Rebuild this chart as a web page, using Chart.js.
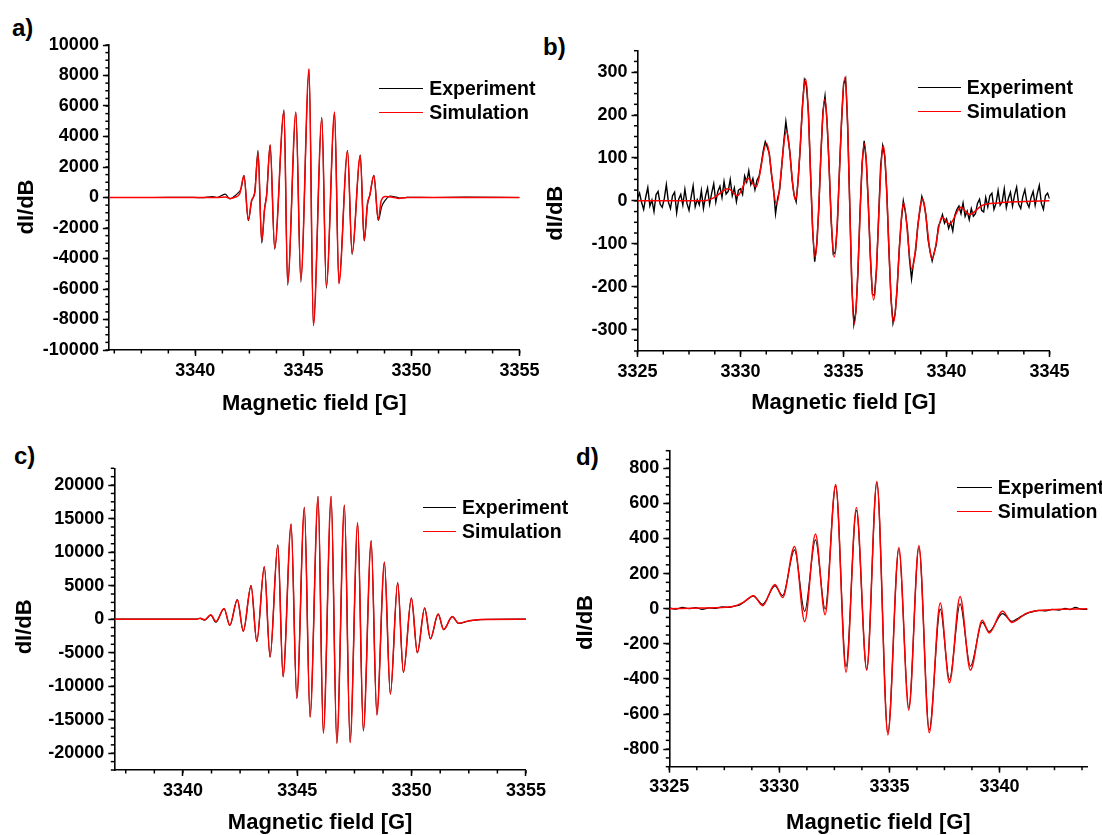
<!DOCTYPE html>
<html>
<head>
<meta charset="utf-8">
<script src="https://cdn.jsdelivr.net/npm/chart.js@4.4.1/dist/chart.umd.min.js"></script>
<style>
  html, body { margin: 0; padding: 0; background: #fff; overflow: hidden; }
  body { width: 1102px; height: 835px; position: relative; font-family: "Liberation Sans", Arial, sans-serif; color: #000; }
  canvas { position: absolute; }
  .tag { position: absolute; font-weight: bold; font-size: 24px; line-height: 24px; }
  .legend { position: absolute; font-weight: bold; font-size: 19.5px; }
  .legend div { display: flex; align-items: center; height: 24px; white-space: nowrap; }
  .legend .swatch { display: inline-block; height: 0; margin-right: 6px; }
</style>
</head>
<body>
<div class="tag" style="left:12px;top:16px">a)</div>
<div class="tag" style="left:543px;top:35px">b)</div>
<div class="tag" style="left:14px;top:444px">c)</div>
<div class="tag" style="left:576px;top:445px">d)</div>
<script>
// ---- panel a ----
const aExpField = [3336.0, 3338.0, 3339.5, 3340.3, 3340.8, 3341.0, 3341.38, 3341.6, 3341.8, 3341.98, 3342.12,
  3342.25, 3342.45, 3342.6, 3342.75, 3342.90, 3343.07, 3343.2, 3343.3, 3343.46, 3343.67, 3344.10, 3344.27,
  3344.65, 3344.88, 3345.26, 3345.46, 3345.85, 3346.06, 3346.44, 3346.64, 3347.04, 3347.25, 3347.63, 3347.81,
  3347.96, 3348.07, 3348.26, 3348.46, 3348.62, 3348.8, 3349.02, 3349.3, 3349.5, 3349.8, 3351.0, 3352.5, 3355.0];
const aExp = [0, 0, 15, -10, 60, 0, 220, -90, 80, 300, 600,
  1450, -1520, -250, 400, 3100, -3000, -750, 250, 3450, -3400, 5750, -5750,
  5550, -5550, 8400, -8400, 5250, -5950, 5550, -5600, 3100, -3750, 2800, -2850,
  -500, 150, 1450, -1500, -600, -150, 100, 20, -40, 10, 0, 20, 0];
const aSimField = [3336.0, 3341.0, 3341.4, 3341.62, 3341.85, 3342.05, 3342.25, 3342.45, 3342.6, 3342.75, 3342.90,
  3343.07, 3343.2, 3343.3, 3343.46, 3343.67, 3344.10, 3344.27, 3344.65, 3344.88, 3345.26, 3345.46, 3345.85,
  3346.06, 3346.44, 3346.64, 3347.04, 3347.25, 3347.63, 3347.81, 3347.96, 3348.07, 3348.26, 3348.46, 3348.6,
  3348.8, 3349.05, 3349.4, 3349.8, 3355.0];
const aSim = [0, 0, 30, -60, 30, 250, 1430, -1480, -200, 300, 2900,
  -2850, -800, 150, 3450, -3300, 5650, -5600, 5600, -5400, 8450, -8400, 5200,
  -5800, 5600, -5650, 3050, -3600, 2750, -2800, -400, 150, 1450, -1450, -200,
  60, 40, -60, 0, 0];
const aXTicks = [3340, 3345, 3350, 3355];
const aYTicks = [-10000, -8000, -6000, -4000, -2000, 0, 2000, 4000, 6000, 8000, 10000];

// ---- panel b ----
// experiment: one reading every 0.1 G from 3325 G
const bExpStart = 3325, bExpStep = 0.1;
const bExp = [
  6, 18, -4, -20, 9, 31, -12, 2, -25, 14,
  22, -8, -15, 5, 38, -3, -18, 12, 20, -28,
  4, 15, -10, 27, -6, -22, 8, 35, -14, 3,
  -9, 24, -18, 11, 30, -8, 18, 40, -3, 22,
  34, 8, 45, 16, 22, 50, 12, 30, -2, 25,
  28, 15, 58, 44, 70, 38, 52, 26, 48, 57,
  84, 116, 138, 125, 110, 62, 28, -30, 6, 26,
  80, 138, 185, 148, 112, 50, 14, -2, 52, 125,
  218, 282, 268, 204, 60, -70, -142, -100, -18, 110,
  208, 244, 184, 80, -48, -124, -120, -55, 70, 182,
  272, 285, 176, -8, -196, -287, -258, -165, -25, 88,
  140, 95, -4, -130, -218, -220, -160, -40, 82, 128,
  104, 20, -112, -225, -285, -264, -206, -114, -48, 0,
  -26, -66, -136, -182, -142, -116, -58, -24, 10, -6,
  -34, -90, -118, -140, -120, -102, -60, -48, -32, -52,
  -42, -64, -50, -70, -34, -20, -12, -30, -5, -36,
  -24, -44, -18, -36, -30, -6, 4, -22, -26, 8,
  -14, 12, 18, -20, -6, 24, -10, -2, 28, -16,
  6, 20, -12, 14, 32, -8, -18, 10, 26, -4,
  -15, 8, 22, -10, 16, 36, -6, -20, 12, 18,
  5];
const bSimField = [3325.0, 3328.2, 3328.7, 3329.40, 3329.85, 3330.37, 3330.76, 3331.26, 3331.75, 3332.23,
  3332.67, 3333.16, 3333.62, 3334.09, 3334.55, 3335.07, 3335.52, 3336.01, 3336.46, 3336.93, 3337.42,
  3337.92, 3338.31, 3338.83, 3339.30, 3339.77, 3340.15, 3340.69, 3341.11, 3341.71, 3342.5, 3343.55, 3345.0];
const bSim = [0, 0, 7, 28, 12, 52, 33, 134, -7, 162,
  2, 284, -131, 236, -131, 288, -287, 133, -231, 129, -283,
  -5, -159, 5, -135, -38, -54, -15, -32, -11, -5, -2, 0];
const bXTicks = [3325, 3330, 3335, 3340, 3345];
const bYTicks = [-300, -200, -100, 0, 100, 200, 300];

// ---- panel c ----
const cField = [3337.0, 3340.6, 3340.75, 3340.95, 3341.22, 3341.44, 3341.80, 3342.05, 3342.38, 3342.64,
  3342.98, 3343.23, 3343.56, 3343.81, 3344.15, 3344.38, 3344.73, 3344.98, 3345.31, 3345.56, 3345.91,
  3346.14, 3346.48, 3346.73, 3347.06, 3347.31, 3347.64, 3347.89, 3348.23, 3348.48, 3348.81, 3349.07,
  3349.39, 3349.64, 3349.99, 3350.25, 3350.57, 3350.82, 3351.16, 3351.40, 3351.78, 3352.05, 3352.5,
  3353.0, 3355.0];
const cExp = [0, 0, 120, -150, 600, -450, 1550, -950, 2900, -1800,
  5000, -3350, 7800, -5650, 11100, -8600, 14200, -11800, 16700, -14600, 18300,
  -17000, 18300, -18500, 17000, -18400, 14300, -16700, 11700, -14200, 8500, -11200,
  5450, -7950, 3150, -5000, 1650, -2950, 750, -1550, 380, -620, -280,
  -60, 0];
const cSim = [0, 0, 150, -100, 650, -350, 1600, -900, 2900, -1800,
  5000, -3300, 7800, -5650, 11050, -8550, 14100, -11800, 16600, -14600, 18300,
  -17000, 18300, -18500, 17000, -18400, 14400, -16600, 11650, -14300, 8500, -11150,
  5450, -7950, 3150, -5000, 1650, -2900, 750, -1550, 380, -600, -250,
  -50, 0];
const cXTicks = [3340, 3345, 3350, 3355];
const cYTicks = [-20000, -15000, -10000, -5000, 0, 5000, 10000, 15000, 20000];

// ---- panel d ----
const dExpField = [3325.0, 3325.3, 3325.6, 3325.9, 3326.2, 3326.5, 3326.8, 3327.1, 3327.4, 3327.7, 3328.0,
  3328.2, 3328.4, 3328.82, 3329.24, 3329.80, 3330.15, 3330.69, 3331.15, 3331.64, 3332.08, 3332.56,
  3333.03, 3333.50, 3333.97, 3334.43, 3334.93, 3335.43, 3335.88, 3336.34, 3336.81, 3337.31, 3337.73,
  3338.21, 3338.68, 3339.22, 3339.53, 3340.14, 3340.56, 3340.9, 3341.24, 3341.5, 3341.8, 3342.1,
  3342.4, 3342.7, 3343.0, 3343.2, 3343.45, 3343.7, 3344.0];
const dExp = [5, -3, 8, 0, 6, -4, 5, 2, 10, 8, 16,
  22, 38, 72, 25, 130, 75, 335, -15, 392, -2, 700,
  -330, 560, -345, 720, -705, 340, -565, 350, -690, -2, -403,
  28, -327, -78, -130, -28, -72, -50, -28, -18, -10, -12,
  -4, -8, 2, -6, 8, -2, -4];
const dSimField = [3325.0, 3326.4, 3327.9, 3328.36, 3328.82, 3329.24, 3329.80, 3330.15, 3330.69, 3331.15,
  3331.64, 3332.08, 3332.56, 3333.03, 3333.50, 3333.97, 3334.43, 3334.93, 3335.43, 3335.88, 3336.34,
  3336.81, 3337.31, 3337.73, 3338.21, 3338.68, 3339.22, 3339.53, 3340.14, 3340.56, 3341.24, 3342.3, 3344.0];
const dSim = [0, 4, 13, 36, 74, 17, 138, 64, 354, -74,
  426, -34, 708, -362, 577, -350, 725, -719, 348, -577, 360,
  -706, 32, -422, 70, -350, -66, -138, -13, -78, -25, -6, 0];
const dXTicks = [3325, 3330, 3335, 3340];
const dYTicks = [-800, -600, -400, -200, 0, 200, 400, 600, 800];

const FONT = '"Liberation Sans", Arial, sans-serif';
Chart.defaults.font.family = FONT;
Chart.defaults.color = '#000';

const zip = (xs, ys) => ys.map((y, i) => ({ x: xs[i], y }));

// short ticks between the labelled ones
const minorTicks = {
  id: 'minorTicks',
  afterDraw(chart, args, opts) {
    const ctx = chart.ctx;
    ctx.save();
    ctx.strokeStyle = '#000';
    ctx.lineWidth = 1.5;
    ['x', 'y'].forEach(id => {
      const scale = chart.scales[id];
      const step = opts[id];
      const first = Math.ceil(scale.min / step - 1e-9);
      const last = Math.floor(scale.max / step + 1e-9);
      for (let k = first; k <= last; k++) {
        const p = scale.getPixelForValue(k * step);
        ctx.beginPath();
        if (id === 'x') { ctx.moveTo(p, scale.top); ctx.lineTo(p, scale.top + 3.5); }
        else { ctx.moveTo(scale.right, p); ctx.lineTo(scale.right - 3.5, p); }
        ctx.stroke();
      }
    });
    ctx.restore();
  }
};

// vertical y title, sitting a little below the middle of the axis
const yTitle = {
  id: 'yTitle',
  afterDraw(chart, args, opts) {
    const s = chart.scales.y;
    const ctx = chart.ctx;
    ctx.save();
    ctx.translate(opts.x, (s.top + s.bottom) / 2 + opts.dy);
    ctx.rotate(-Math.PI / 2);
    ctx.font = 'bold 22px ' + FONT;
    ctx.fillStyle = '#000';
    ctx.textAlign = 'center';
    ctx.textBaseline = 'middle';
    ctx.fillText(s.options.title.text, 0, 0);
    ctx.restore();
  }
};

function axis(min, max, tickVals, title, showTitle, fit, titlePad) {
  return {
    type: 'linear',
    min, max,
    afterBuildTicks: s => { s.ticks = tickVals.map(v => ({ value: v })); },
    afterFit: fit,
    ticks: {
      autoSkip: false, maxRotation: 0, padding: 4,
      font: { size: 18, weight: 'bold' },
      callback: v => String(v)
    },
    grid: { drawOnChartArea: false, drawTicks: true, tickLength: 6, tickWidth: 1.5, tickColor: '#000' },
    border: { display: true, color: '#000', width: 1.6 },
    title: { display: showTitle, text: title, font: { size: 22, weight: 'bold' }, padding: titlePad }
  };
}

function spectrum(p) {
  const canvas = document.createElement('canvas');
  canvas.width = p.box[2];
  canvas.height = p.box[3];
  canvas.style.left = p.box[0] + 'px';
  canvas.style.top = p.box[1] + 'px';
  document.body.appendChild(canvas);
  const chart = new Chart(canvas, {
    type: 'line',
    data: {
      datasets: [
        { label: 'Experiment', data: p.exp, borderColor: '#000000', borderWidth: p.expWidth || 1.2, order: 1,
          cubicInterpolationMode: p.noisy ? 'default' : 'monotone', tension: 0 },
        { label: 'Simulation', data: p.sim, borderColor: '#ff0000', borderWidth: 1.5, order: 0 }
      ]
    },
    options: {
      responsive: false,
      animation: false,
      elements: {
        point: { radius: 0 },
        line: { cubicInterpolationMode: 'monotone', fill: false }
      },
      layout: { padding: p.pad },
      plugins: {
        legend: { display: false },
        tooltip: { enabled: false },
        minorTicks: { x: p.minor[0], y: p.minor[1] },
        yTitle: { x: p.yTitle[0], dy: p.yTitle[1] }
      },
      scales: {
        x: axis(p.xRange[0], p.xRange[1], p.xTicks, 'Magnetic field [G]', true,
          s => { s.height = p.xH; }, { top: 0, bottom: p.xTitlePad }),
        y: axis(p.yRange[0], p.yRange[1], p.yTicks, 'dI/dB', false,
          s => { s.width = p.yW; }, 0)
      }
    },
    plugins: [minorTicks, yTitle]
  });

  // legend block in the upper right of the plot
  const box = document.createElement('div');
  box.className = 'legend';
  box.style.left = p.legend[0] + 'px';
  box.style.top = (p.legend[1] - 12) + 'px';
  chart.data.datasets.forEach(ds => {
    const row = document.createElement('div');
    const sw = document.createElement('span');
    sw.className = 'swatch';
    sw.style.width = p.legend[2] + 'px';
    sw.style.borderTop = '1.5px solid ' + ds.borderColor;
    row.appendChild(sw);
    row.appendChild(document.createTextNode(ds.label));
    box.appendChild(row);
  });
  document.body.appendChild(box);
  return chart;
}

spectrum({
  box: [0, 0, 545, 420],
  pad: { top: 45, right: 25.4, bottom: 0, left: 0 },
  yW: 108.9, xH: 70, xTitlePad: 2.5, yTitle: [26.8, 9.5],
  xRange: [3336, 3355], yRange: [-10000, 10000],
  xTicks: aXTicks, yTicks: aYTicks, minor: [1.25, 500],
  exp: zip(aExpField, aExp), sim: zip(aSimField, aSim),
  legend: [378.6, 88.3, 44.6]
});

spectrum({
  box: [530, 0, 572, 420],
  pad: { top: 50.7, right: 52.4, bottom: 0, left: 0 },
  yW: 107.5, xH: 69, xTitlePad: 3.5, yTitle: [26, 12.4],
  xRange: [3325, 3345], yRange: [-350, 350],
  xTicks: bXTicks, yTicks: bYTicks, minor: [1.25, 25],
  exp: bExp.map((y, i) => ({ x: bExpStart + i * bExpStep, y })), sim: zip(bSimField, bSim),
  noisy: true, expWidth: 1.4,
  legend: [917.9, 87.3, 42.8]
});

spectrum({
  box: [0, 420, 550, 420],
  pad: { top: 48.3, right: 24, bottom: 0, left: 0 },
  yW: 114.3, xH: 70, xTitlePad: 3.5, yTitle: [25, 7.7],
  xRange: [3337, 3355], yRange: [-22500, 22500],
  xTicks: cXTicks, yTicks: cYTicks, minor: [1.25, 1250],
  exp: zip(cField, cExp), sim: zip(cField, cSim),
  legend: [422.5, 507.3, 33.5]
});

spectrum({
  box: [545, 420, 557, 420],
  pad: { top: 30.7, right: 14.5, bottom: 0, left: 0 },
  yW: 124.3, xH: 73.3, xTitlePad: 3.5, yTitle: [40.7, 13.8],
  xRange: [3325, 3344], yRange: [-900, 900],
  xTicks: dXTicks, yTicks: dYTicks, minor: [1.25, 50],
  exp: zip(dExpField, dExp), sim: zip(dSimField, dSim),
  legend: [957, 487.7, 34.8]
});
</script>
</body>
</html>
